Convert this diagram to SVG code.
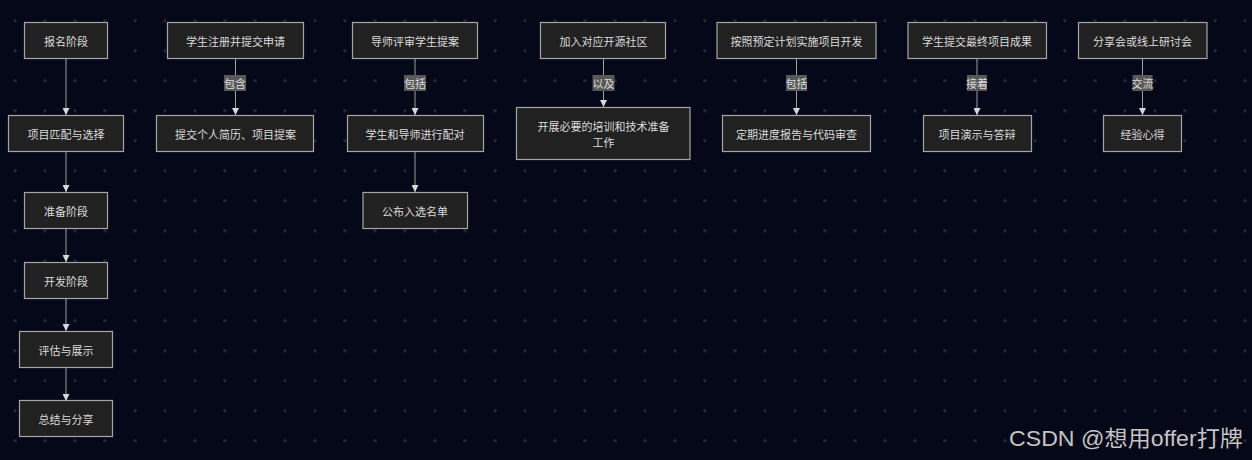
<svg xmlns="http://www.w3.org/2000/svg" width="1252" height="460" viewBox="0 0 1252 460">
<defs>
<pattern id="dots" x="0" y="5.7" width="30" height="30" patternUnits="userSpaceOnUse">
<circle cx="15" cy="15" r="1.6" fill="#262a3a"/>
</pattern>
<marker id="arr" viewBox="0 0 10 10" refX="10" refY="5" markerWidth="7" markerHeight="7" markerUnits="userSpaceOnUse" orient="auto">
<path d="M0,0 L10,5 L0,10 z" fill="#d8d8d8"/>
</marker>
<style>
.n rect{fill:#212121;stroke:#a5a5a5;stroke-width:1.2}
.n text,.lb text{font-family:"Noto Sans CJK SC","Liberation Sans",sans-serif;font-size:11px;fill:#dcdcdc;text-anchor:middle;dominant-baseline:central}
.e{stroke:#a0a0a0;stroke-width:1;fill:none;marker-end:url(#arr)}
.lb rect{fill:#585858}
</style>
</defs>
<rect width="1252" height="460" fill="#050818"/>
<rect width="1252" height="460" fill="url(#dots)"/>

<g id="connectors">
<path class="e" d="M66,58 V115"/>
<path class="e" d="M66,152 V192"/>
<path class="e" d="M66,229 V262"/>
<path class="e" d="M66,298 V331"/>
<path class="e" d="M66,367 V401"/>
<path class="e" d="M235.5,58 V115"/>
<path class="e" d="M415,58 V115"/>
<path class="e" d="M415,152 V192"/>
<path class="e" d="M603.5,58 V107"/>
<path class="e" d="M796.5,58 V115"/>
<path class="e" d="M977,58 V115"/>
<path class="e" d="M1142.5,58 V115"/>
<g class="lb">
<rect x="224" y="75" width="22" height="16"/><text x="235" y="83">包含</text>
<rect x="404" y="75" width="22" height="16"/><text x="415" y="83">包括</text>
<rect x="592.5" y="75" width="22" height="16"/><text x="603.5" y="83">以及</text>
<rect x="786" y="75" width="21" height="16"/><text x="796.5" y="83">包括</text>
<rect x="967" y="75" width="20" height="16"/><text x="977" y="83">接着</text>
<rect x="1132.5" y="75" width="20" height="16"/><text x="1142.5" y="83">交流</text>
</g>
</g>

<g id="n1" class="n"><rect x="24.5" y="22.5" width="83" height="36"/><text x="66" y="40.5">报名阶段</text></g>
<g id="n2" class="n"><rect x="8.5" y="115.5" width="115" height="36"/><text x="66" y="133.5">项目匹配与选择</text></g>
<g id="n3" class="n"><rect x="24.5" y="192.5" width="83" height="36"/><text x="66" y="210.5">准备阶段</text></g>
<g id="n4" class="n"><rect x="24.5" y="262.5" width="83" height="36"/><text x="66" y="280.5">开发阶段</text></g>
<g id="n5" class="n"><rect x="19.5" y="331.5" width="93" height="36"/><text x="66" y="349.5">评估与展示</text></g>
<g id="n6" class="n"><rect x="19.5" y="400.5" width="93" height="36"/><text x="66" y="418.5">总结与分享</text></g>

<g id="n7" class="n"><rect x="167.5" y="22.5" width="136" height="36"/><text x="235.5" y="40.5">学生注册并提交申请</text></g>
<g id="n8" class="n"><rect x="156.5" y="115.5" width="157" height="36"/><text x="235.5" y="133.5">提交个人简历、项目提案</text></g>

<g id="n9" class="n"><rect x="352.5" y="22.5" width="125" height="36"/><text x="415" y="40.5">导师评审学生提案</text></g>
<g id="n10" class="n"><rect x="347.5" y="115.5" width="136" height="36"/><text x="415" y="133.5">学生和导师进行配对</text></g>
<g id="n11" class="n"><rect x="363" y="192.5" width="104.5" height="36"/><text x="415" y="210.5">公布入选名单</text></g>

<g id="n12" class="n"><rect x="540.5" y="22.5" width="125" height="36"/><text x="603.5" y="40.5">加入对应开源社区</text></g>
<g id="n13" class="n"><rect x="516.5" y="107.5" width="173.5" height="52"/><text x="603.5" y="125.5">开展必要的培训和技术准备</text><text x="603.5" y="141.5">工作</text></g>

<g id="n14" class="n"><rect x="717" y="22.5" width="159" height="36"/><text x="796.5" y="40.5">按照预定计划实施项目开发</text></g>
<g id="n15" class="n"><rect x="722.5" y="115.5" width="148" height="36"/><text x="796.5" y="133.5">定期进度报告与代码审查</text></g>

<g id="n16" class="n"><rect x="908" y="22.5" width="138.5" height="36"/><text x="977" y="40.5">学生提交最终项目成果</text></g>
<g id="n17" class="n"><rect x="923.5" y="115.5" width="108" height="36"/><text x="977" y="133.5">项目演示与答辩</text></g>

<g id="n18" class="n"><rect x="1078.5" y="22.5" width="128.5" height="36"/><text x="1142.5" y="40.5">分享会或线上研讨会</text></g>
<g id="n19" class="n"><rect x="1103.5" y="115.5" width="78" height="36"/><text x="1142.5" y="133.5">经验心得</text></g>

<text x="1009" y="446" font-family="'Liberation Sans','Noto Sans CJK SC',sans-serif" font-size="22" fill="#c4c4c4" textLength="234" lengthAdjust="spacingAndGlyphs">CSDN @想用offer打牌</text>
</svg>
